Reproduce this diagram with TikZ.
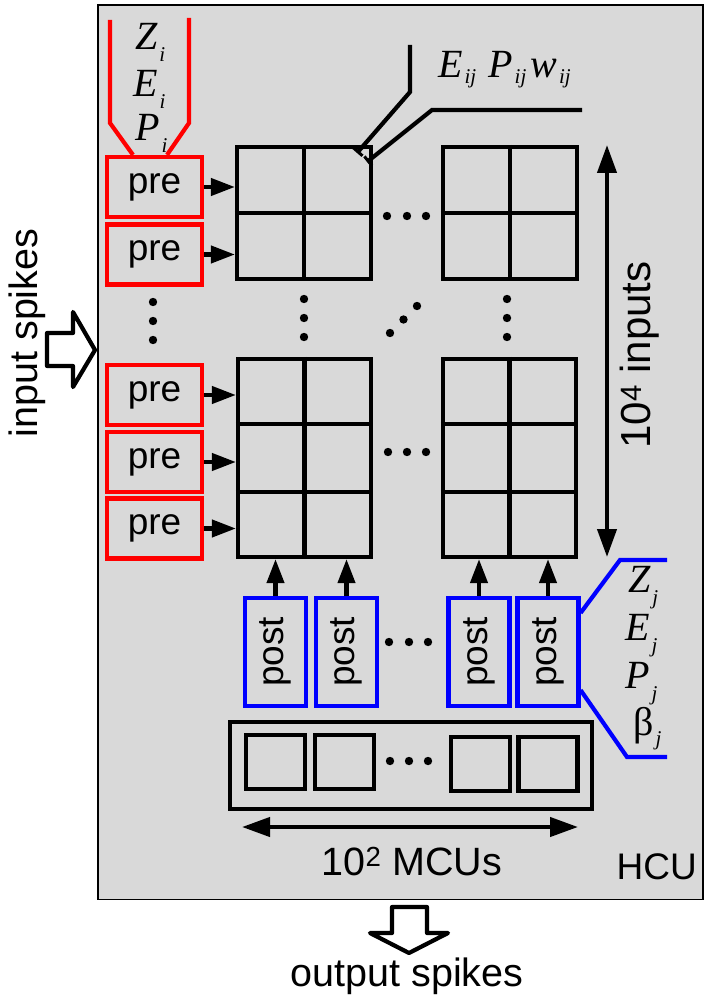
\documentclass[tikz,border=0pt]{standalone}
\usepackage{fontspec}
\setmainfont{Liberation Sans}
\newfontfamily\serifface{Liberation Serif}
\usetikzlibrary{arrows.meta,calc}
\definecolor{bg}{HTML}{D9D9D9}
\newcommand\mletter[1]{{\fontsize{40}{40}\selectfont\serifface\itshape #1}}
\newcommand\mgreek[1]{{\fontsize{40}{40}\selectfont\serifface #1}}
\newcommand\msub[2]{\hspace{2pt}\raisebox{#1}{\fontsize{21}{21}\selectfont\serifface\itshape #2}}
\begin{document}
\begin{tikzpicture}[x=1pt,y=-1pt,
  txt/.style={font=\fontsize{37}{37}\selectfont, inner sep=0pt},
  bigtxt/.style={font=\fontsize{39.5}{39.5}\selectfont, inner sep=0pt},
  prebox/.style={draw=red, line width=4.2pt, minimum width=95pt, minimum height=60pt, inner sep=0pt, font=\fontsize{37}{37}\selectfont},
  postbox/.style={draw=blue, line width=4.2pt, minimum width=61pt, minimum height=108pt, inner sep=0pt, font=\fontsize{37}{37}\selectfont},
  gridbox/.style={draw=black, line width=4.2pt, inner sep=0pt},
  mcubox/.style={draw=black, line width=4.2pt, inner sep=0pt, minimum width=59pt, minimum height=54pt},
  gl/.style={line width=4.2pt},
  arr/.style={line width=4.2pt, -{Triangle[length=24pt,width=17pt]}},
  darr/.style={line width=4.2pt, {Triangle[length=28pt,width=19pt]}-{Triangle[length=28pt,width=19pt]}},
  redline/.style={draw=red, line width=4.2pt},
  blueline/.style={draw=blue, line width=4.2pt},
  hollow/.style={draw=black, line width=4.2pt, fill=white, line join=round},
  dot/.style={fill=black}
]
\useasboundingbox (0,0) rectangle (708,1003);
% HCU
\node[draw=black, line width=1.5pt, fill=bg, minimum width=605pt, minimum height=894pt, inner sep=0pt, anchor=north west] (hcu) at (97,4.5) {};
\node[txt, anchor=base east] (hculbl) at (697,879) {HCU};

% grids
\node[gridbox, minimum width=134pt, minimum height=132pt] (g1) at (304,213) {};
\node[gridbox, minimum width=134pt, minimum height=132pt] (g2) at (510,213) {};
\node[gridbox, minimum width=133pt, minimum height=198pt] (g3) at (304.5,458) {};
\node[gridbox, minimum width=133pt, minimum height=198pt] (g4) at (509.5,458) {};
\foreach \g in {g1,g2}{
  \draw[gl] (\g.north) -- (\g.south);
  \draw[gl] (\g.west) -- (\g.east);
}
\foreach \g in {g3,g4}{
  \draw[gl] (\g.north) -- (\g.south);
  \draw[gl] ($(\g.north west)!1/3!(\g.south west)$) -- ($(\g.north east)!1/3!(\g.south east)$);
  \draw[gl] ($(\g.north west)!2/3!(\g.south west)$) -- ($(\g.north east)!2/3!(\g.south east)$);
}

% pre boxes
\node[prebox] (pre1) at (154.5,187) {pre};
\node[prebox] (pre2) at (154.5,254.5) {pre};
\node[prebox] (pre3) at (154.5,395) {pre};
\node[prebox] (pre4) at (154.5,462) {pre};
\node[prebox] (pre5) at (154.5,528.5) {pre};
\draw[arr] (pre1.east) -- (pre1.east -| g1.west);
\draw[arr] (pre2.east) -- (pre2.east -| g1.west);
\draw[arr] (pre3.east) -- (pre3.east -| g3.west);
\draw[arr] (pre4.east) -- (pre4.east -| g3.west);
\draw[arr] (pre5.east) -- (pre5.east -| g3.west);

% red lines to Z_i E_i P_i
\draw[redline] (110,20) -- (110,123) -- ($(pre1.north)+(-21.5,0)$);
\draw[redline] (189,18) -- (189,123) -- ($(pre1.north)+(12.5,0)$);
\node[inner sep=0pt, anchor=base west] (zi) at (135,50) {\mletter{Z}\msub{-12pt}{i}};
\node[inner sep=0pt, anchor=base west] (ei) at (133,97) {\mletter{E}\msub{-12pt}{i}};
\node[inner sep=0pt, anchor=base west] (pi) at (135,141) {\mletter{P}\msub{-12pt}{i}};

% E_ij P_ij w_ij pointer
\node[inner sep=0pt, anchor=base west] (eij) at (438,78) {\mletter{E}\msub{-6pt}{ij}\hspace{12pt}\mletter{P}\msub{-6pt}{ij}\hspace{4pt}\mletter{w}\msub{-6pt}{ij}};
\coordinate (l1a) at (410,45);
\coordinate (l1b) at (357,153);
\coordinate (l2a) at (582,110);
\coordinate (l2b) at (367,162);
\draw[line width=4.2pt, -{Bar[width=12pt,line width=3pt]}] (l1a) -- (410,92) -- (l1b);
\draw[line width=4.2pt, -{Bar[width=12pt,line width=3pt]}] (l2a) -- (432,110) -- (l2b);

% 10^4 inputs
\coordinate (ia) at (607,145);
\coordinate (ib) at (607,557);
\draw[darr] (ia) -- (ib);
\node[font=\fontsize{42}{42}\selectfont, inner sep=0pt, rotate=90] (inlbl) at (640,355) {10\textsuperscript{4} inputs};

% post boxes
\node[postbox] (post1) at (275.5,652) {\rotatebox{90}{post}};
\node[postbox] (post2) at (346.5,652) {\rotatebox{90}{post}};
\node[postbox] (post3) at (479,652) {\rotatebox{90}{post}};
\node[postbox] (post4) at (548,652) {\rotatebox{90}{post}};
\draw[arr] (post1.north) -- (post1.north |- g3.south);
\draw[arr] (post2.north) -- (post2.north |- g3.south);
\draw[arr] (post3.north) -- (post3.north |- g4.south);
\draw[arr] (post4.north) -- (post4.north |- g4.south);

% blue lines and labels
\draw[blueline] (667,560) -- (620,560) -- ($(post4.north east)+(0,17)$);
\draw[blueline] ($(post4.south east)+(0,-18)$) -- (627,757) -- (667,757);
\node[inner sep=0pt, anchor=base west] (zj) at (628,592) {\mletter{Z}\msub{-12pt}{j}};
\node[inner sep=0pt, anchor=base west] (ej) at (625,640) {\mletter{E}\msub{-12pt}{j}};
\node[inner sep=0pt, anchor=base west] (pj) at (625,688) {\mletter{P}\msub{-12pt}{j}};
\node[inner sep=0pt, anchor=base west] (bj) at (633,735) {\mgreek{β}\msub{-10pt}{j}};

% MCUs
\node[draw=black, line width=4.2pt, inner sep=0pt, minimum width=362pt, minimum height=87pt] (mcus) at (411,765.5) {};
\node[mcubox] (m1) at (275.5,762) {};
\node[mcubox] (m2) at (344.5,762) {};
\node[mcubox] (m3) at (480.5,764) {};
\node[mcubox] (m4) at (548,764) {};
\coordinate (ma) at (242,827);
\coordinate (mb) at (578,827);
\draw[darr] (ma) -- (mb);
\node[bigtxt] (mculbl) at (412,862) {10\textsuperscript{2} MCUs};

% dots
\foreach \p in {(153,302),(153,321),(153,340),
  (387,216),(407,216),(426,216),
  (304,299),(304,318),(304,337),
  (507,299),(507,318),(507,337),
  (390,333),(403.5,319.5),(417,306),
  (388,452),(407,452),(426,452),
  (389,642),(409,642),(428,642),
  (390,761),(409,761),(428,761)}
  \fill[dot] \p circle (4.2pt);

% input / output spikes
\draw[hollow] (47,333) -- (73,333) -- (73,312) -- (95,350) -- (73,387) -- (73,366) -- (47,366) -- cycle;
\node[bigtxt, rotate=90] (inspk) at (27,333) {input spikes};
\draw[hollow] (392,907) -- (427,907) -- (427,933) -- (448,933) -- (409,953) -- (370,933) -- (392,933) -- cycle;
\node[bigtxt] (outspk) at (407,976) {output spikes};
\end{tikzpicture}
\end{document}
